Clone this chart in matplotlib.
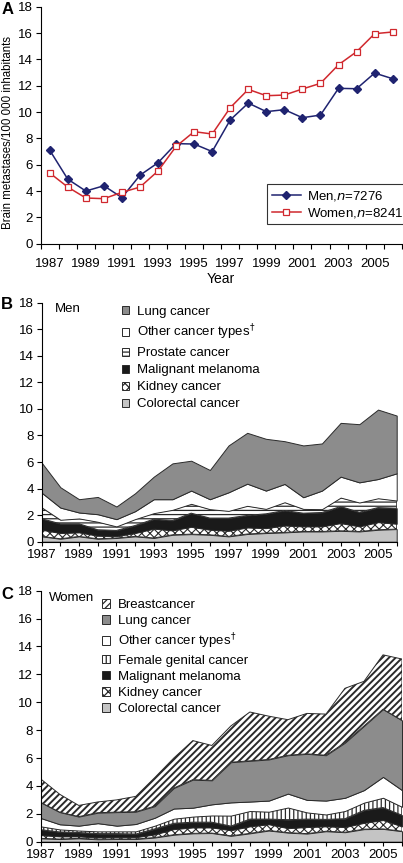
import matplotlib
matplotlib.use("Agg")
import matplotlib.pyplot as plt
from matplotlib.patches import Patch
import numpy as np

plt.rcParams['font.family'] = ['Liberation Sans Narrow', 'Liberation Sans', 'DejaVu Sans']
plt.rcParams['mathtext.fontset'] = 'custom'
plt.rcParams['mathtext.rm'] = 'Liberation Sans Narrow'
plt.rcParams['mathtext.it'] = 'Liberation Sans Narrow:italic'
plt.rcParams['hatch.linewidth'] = 0.9

# ---------------- data ----------------
years = list(range(1987, 2007))
year_labels = [str(y) if (y - 1987) % 2 == 0 else '' for y in years]

men_total = [7.1, 4.9, 4.0, 4.4, 3.5, 5.2, 6.15, 7.6, 7.57, 7.0, 9.4, 10.68, 10.03, 10.18,
             9.57, 9.77, 11.8, 11.77, 12.96, 12.53]
women_total = [5.37, 4.3, 3.47, 3.42, 3.9, 4.3, 5.52, 7.39, 8.51, 8.33, 10.33, 11.72, 11.24,
               11.29, 11.75, 12.18, 13.59, 14.58, 15.95, 16.08]

# Men, by primary (stacked, bottom to top)
men_colorectal = [0.40, 0.22, 0.40, 0.22, 0.28, 0.40, 0.28, 0.52, 0.57, 0.52, 0.40, 0.58, 0.65, 0.70,
                  0.77, 0.77, 0.82, 0.77, 0.90, 0.95]
men_kidney = [0.50, 0.43, 0.30, 0.23, 0.14, 0.25, 0.70, 0.33, 0.55, 0.38, 0.42, 0.49, 0.37, 0.52,
              0.38, 0.38, 0.58, 0.38, 0.57, 0.40]
men_melanoma = [0.83, 0.70, 0.65, 0.45, 0.43, 0.57, 0.72, 0.75, 1.03, 0.88, 0.96, 0.91, 1.08, 1.13,
                1.00, 1.05, 1.25, 1.07, 1.10, 1.17]
men_prostate = [0.85, 0.30, 0.40, 0.60, 0.30, 0.48, 0.45, 0.80, 0.70, 0.67, 0.54, 0.72, 0.37, 0.62,
                0.32, 0.25, 0.67, 0.73, 0.70, 0.58]
men_other = [1.11, 0.92, 0.45, 0.57, 0.55, 0.60, 1.05, 0.80, 1.00, 0.75, 1.40, 1.67, 1.38, 1.38,
             0.88, 1.40, 1.58, 1.52, 1.45, 2.05]
men_lung = [2.26, 1.53, 1.00, 1.30, 0.95, 1.35, 1.70, 2.70, 2.25, 2.20, 3.53, 3.83, 3.90, 3.22,
            3.90, 3.55, 4.05, 4.38, 5.23, 4.35]

# Women, by primary (stacked, bottom to top)
women_colorectal = [0.24, 0.19, 0.24, 0.17, 0.19, 0.19, 0.30, 0.50, 0.60, 0.62, 0.42, 0.60, 0.80,
                    0.65, 0.58, 0.75, 0.68, 0.90, 0.92, 0.75]
women_kidney = [0.23, 0.19, 0.14, 0.13, 0.13, 0.13, 0.22, 0.40, 0.42, 0.40, 0.40, 0.50, 0.45, 0.32,
                0.47, 0.35, 0.37, 0.45, 0.63, 0.35]
women_melanoma = [0.39, 0.32, 0.28, 0.28, 0.26, 0.23, 0.40, 0.42, 0.38, 0.38, 0.30, 0.52, 0.37, 0.61,
                  0.57, 0.50, 0.60, 0.90, 0.90, 0.80]
women_genital = [0.24, 0.18, 0.14, 0.16, 0.16, 0.19, 0.23, 0.33, 0.40, 0.48, 0.75, 0.58, 0.53, 0.87,
                 0.48, 0.35, 0.55, 0.55, 0.70, 0.60]
women_other = [0.60, 0.37, 0.35, 0.59, 0.41, 0.53, 0.57, 0.73, 0.64, 0.80, 0.95, 0.68, 0.80, 1.00,
               0.90, 1.00, 0.95, 0.90, 1.50, 1.20]
women_lung = [1.12, 0.87, 0.65, 0.75, 0.97, 0.88, 0.83, 1.47, 2.01, 1.72, 2.88, 2.92, 2.95, 2.75,
              3.30, 3.25, 3.95, 4.60, 4.85, 5.00]
women_breast = [1.68, 1.28, 0.80, 0.77, 0.88, 1.10, 2.05, 2.15, 2.80, 2.50, 2.60, 3.50, 3.10, 2.55,
                2.90, 2.95, 3.90, 3.20, 3.90, 4.40]

# (label, values, face colour, hatch, hatch linewidth)
men_series = [
    ("Colorectal cancer", men_colorectal, '#c4c4c4', None, 0.9),
    ("Kidney cancer", men_kidney, 'white', 'xxxx', 0.8),
    ("Malignant melanoma", men_melanoma, '#1a1a1a', None, 0.9),
    ("Prostate cancer", men_prostate, 'white', '----', 0.9),
    ("Other cancer types$^{\\dagger}$", men_other, 'white', None, 0.9),
    ("Lung cancer", men_lung, '#8c8c8c', None, 0.9),
]
women_series = [
    ("Colorectal cancer", women_colorectal, '#c4c4c4', None, 0.9),
    ("Kidney cancer", women_kidney, 'white', 'xxxx', 0.8),
    ("Malignant melanoma", women_melanoma, '#1a1a1a', None, 0.9),
    ("Female genital cancer", women_genital, 'white', '||||', 0.9),
    ("Other cancer types$^{\\dagger}$", women_other, 'white', None, 0.9),
    ("Lung cancer", women_lung, '#8c8c8c', None, 0.9),
    ("Breastcancer", women_breast, 'white', '/////', 1.4),
]

W, H = 403, 863
fig = plt.figure(figsize=(W / 100, H / 100), dpi=100)


def box(l, t, r, b):
    return [l / W, 1 - b / H, (r - l) / W, (b - t) / H]


FS = 9.5
edge = '#2a2a2a'
REG = ['Liberation Sans', 'DejaVu Sans']

# ---------------- Panel A ----------------
axA = fig.add_axes(box(40.7, 6.7, 401.7, 243.7))
xi = np.arange(len(years))
axA.plot(xi, men_total, color='#1f2370', lw=1.1, marker='D', ms=4.2,
         mfc='#1f2370', mec='#1f2370', label='Men,$\\it{n}$=7276')
axA.plot(xi, women_total, color='#d0282e', lw=1.1, marker='s', ms=5,
         mfc='white', mec='#d0282e', mew=0.9, label='Women,$\\it{n}$=8241')
axA.set_xlim(-0.5, len(years) - 0.5)
axA.set_ylim(0, 18)
axA.set_yticks(range(0, 19, 2))
axA.set_xticks(xi[::2])
axA.set_xticklabels(years[::2])
axA.set_xticks(np.arange(-0.5, len(years), 1), minor=True)
axA.tick_params(axis='x', which='major', length=0, pad=10, labelsize=FS)
axA.tick_params(axis='x', which='minor', length=3.5, direction='out', width=0.8)
axA.tick_params(axis='y', length=3.5, width=0.8, labelsize=FS, pad=2)
axA.spines['top'].set_visible(False)
axA.spines['right'].set_visible(False)
axA.set_xlabel('Year', fontsize=FS + 0.5, labelpad=2)
axA.set_ylabel('Brain metastases/100 000 inhabitants', fontsize=8.3, family=REG)
axA.yaxis.set_label_coords(-0.074, 0.469)
leg = axA.legend(loc='upper left', bbox_to_anchor=(0.627, 0.25), borderaxespad=0,
                 fontsize=FS, frameon=True, fancybox=False, edgecolor='black',
                 handlelength=2.2, handletextpad=0.45, borderpad=0.35, labelspacing=0.2)
leg.get_frame().set_linewidth(0.8)
fig.text(2 / W, 1 - 10 / H, 'A', fontsize=12, fontweight='bold', va='center', ha='left',
         family=REG)


def stacked(ax, series, title, title_xy, leg_anchor, spacing):
    bottom = np.zeros(len(years))
    handles = []
    for name, vals, fc, hatch, hlw in series:
        top = bottom + np.array(vals)
        coll = ax.fill_between(years, bottom, top, facecolor=fc, edgecolor=edge, hatch=hatch,
                               lw=0.7, zorder=2)
        h = Patch(facecolor=fc, edgecolor=edge, hatch=hatch, lw=0.7, label=name)
        for art in (coll, h):
            try:
                art.set_hatch_linewidth(hlw)
            except AttributeError:
                pass
        handles.append(h)
        bottom = top
    ax.set_xlim(1987, 2006)
    ax.set_ylim(0, 18)
    ax.set_yticks(range(0, 19, 2))
    ax.set_xticks(years)
    ax.set_xticklabels(year_labels)
    ax.tick_params(axis='x', length=3, width=0.8, labelsize=FS, pad=2)
    ax.tick_params(axis='y', length=3.5, width=0.8, labelsize=FS, pad=2)
    ax.spines['top'].set_visible(False)
    ax.spines['right'].set_visible(False)
    ax.text(title_xy[0], title_xy[1], title, transform=ax.transAxes, fontsize=FS,
            va='top', ha='left')
    lg = ax.legend(handles=handles[::-1], loc='upper left', bbox_to_anchor=leg_anchor,
                   borderaxespad=0, frameon=False, fontsize=FS, handlelength=0.6,
                   handleheight=0.6, handletextpad=0.6, borderpad=0, labelspacing=spacing)
    return lg


axB = fig.add_axes(box(41.7, 302.7, 396.7, 541.7))
stacked(axB, men_series, 'Men', (0.036, 1.0), (0.225, 0.987), 0.38)
fig.text(1 / W, 1 - 304 / H, 'B', fontsize=12, fontweight='bold', va='center', ha='left',
         family=REG)

axC = fig.add_axes(box(40.7, 590.7, 402, 841.7))
stacked(axC, women_series, 'Women', (0.022, 0.993), (0.17, 0.967), 0.31)
fig.text(1 / W, 1 - 594 / H, 'C', fontsize=12, fontweight='bold', va='center', ha='left',
         family=REG)

fig.savefig('out.png', dpi=100)
